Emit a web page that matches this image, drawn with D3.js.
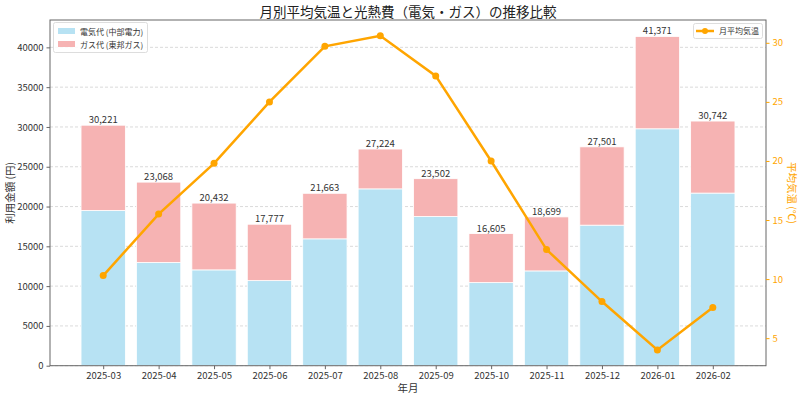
<!DOCTYPE html>
<html><head><meta charset="utf-8">
<script src="https://cdn.jsdelivr.net/npm/d3@7"></script>
<style>body{margin:0;background:#fff;} text{font-family:"Noto Sans CJK JP","DejaVu Sans",sans-serif;}</style>
</head><body>
<svg id="c" width="800" height="397"></svg>
<script>
const months = ["2025-03","2025-04","2025-05","2025-06","2025-07","2025-08","2025-09","2025-10","2025-11","2025-12","2026-01","2026-02"];
const totals = [30221,23068,20432,17777,21663,27224,23502,16605,18699,27501,41371,30742];
const electric = [19500,12960,12040,10690,15940,22220,18740,10440,11910,17660,29770,21690];
const temps = [10.3,15.5,19.8,25.0,29.7,30.6,27.2,20.0,12.5,8.1,4.0,7.6];
const leftTicks = [0,5000,10000,15000,20000,25000,30000,35000,40000];
const rightTicks = [5,10,15,20,25,30];

const svg = d3.select("#c");
const L=50,R=766,T=20,B=365.7;
const x = d3.scaleLinear().domain([-0.96, months.length-1+0.96]).range([L,R]);
const y = d3.scaleLinear().domain([0, d3.max(totals)*1.05]).range([B,T]);
const tmin=d3.min(temps), tmax=d3.max(temps), pad=(tmax-tmin)*0.05;
const y2 = d3.scaleLinear().domain([tmin-pad, tmax+pad]).range([B,T]);
const bw = (x(1)-x(0))*0.8;
const blue="#B7E2F3", pink="#F6B3B3", orange="#FFA500";

// grid
svg.append("g").selectAll("line").data(leftTicks).join("line")
  .attr("x1",L).attr("x2",R).attr("y1",d=>y(d)).attr("y2",d=>y(d))
  .attr("stroke","#ccc").attr("stroke-dasharray","3,2").attr("stroke-width",0.7);

// bars
const g = svg.append("g");
months.forEach((m,i)=>{
  g.append("rect").attr("x",x(i)-bw/2).attr("width",bw).attr("y",y(electric[i])).attr("height",y(0)-y(electric[i]))
    .attr("fill",blue).attr("stroke","#fff").attr("stroke-width",0.8);
  g.append("rect").attr("x",x(i)-bw/2).attr("width",bw).attr("y",y(totals[i])).attr("height",y(electric[i])-y(totals[i]))
    .attr("fill",pink).attr("stroke","#fff").attr("stroke-width",0.8);
  g.append("text").attr("x",x(i)).attr("y",y(totals[i])-2).attr("text-anchor","middle")
    .attr("font-size",9.5).attr("fill","#333").text(d3.format(",")(totals[i]));
});

// line
const line = d3.line().x((d,i)=>x(i)).y(d=>y2(d));
svg.append("path").datum(temps).attr("d",line).attr("fill","none").attr("stroke",orange).attr("stroke-width",2.5);
svg.append("g").selectAll("circle").data(temps).join("circle")
  .attr("cx",(d,i)=>x(i)).attr("cy",d=>y2(d)).attr("r",3.5).attr("fill",orange);

// frame
svg.append("rect").attr("x",L).attr("y",T).attr("width",R-L).attr("height",B-T).attr("fill","none").attr("stroke","#666").attr("stroke-width",1);

// axes
const xa = svg.append("g").attr("transform",`translate(0,${B})`)
  .call(d3.axisBottom(x).tickValues(d3.range(months.length)).tickFormat(i=>months[i]).tickSize(3.5).tickPadding(3));
const ya = svg.append("g").attr("transform",`translate(${L},0)`)
  .call(d3.axisLeft(y).tickValues(leftTicks).tickFormat(d3.format("d")).tickSize(3.5).tickPadding(3));
const y2a = svg.append("g").attr("transform",`translate(${R},0)`)
  .call(d3.axisRight(y2).tickValues(rightTicks).tickFormat(d3.format("d")).tickSize(3.5).tickPadding(3));
[xa,ya,y2a].forEach(a=>{a.select(".domain").remove(); a.selectAll("text").attr("font-size",9.5).attr("fill","#333");a.selectAll("line").attr("stroke","#666");});
y2a.selectAll("text").attr("fill",orange);
y2a.selectAll("line").attr("stroke",orange);

// labels
svg.append("text").attr("x",(L+R)/2).attr("y",B+26).attr("text-anchor","middle").attr("font-size",10.5).attr("fill","#333").text("年月");
svg.append("text").attr("transform",`translate(14,${(T+B)/2}) rotate(-90)`).attr("text-anchor","middle").attr("font-size",10.5).attr("fill","#333").text("利用金額 (円)");
svg.append("text").attr("transform",`translate(788,${(T+B)/2}) rotate(90)`).attr("text-anchor","middle").attr("font-size",10.5).attr("fill",orange).text("平均気温 (℃)");
svg.append("text").attr("x",(L+R)/2).attr("y",17).attr("text-anchor","middle").attr("font-size",13.5).attr("fill","#222").text("月別平均気温と光熱費（電気・ガス）の推移比較");

// left legend
const lg = svg.append("g");
lg.append("rect").attr("x",53.5).attr("y",22.5).attr("width",94).attr("height",30).attr("rx",2).attr("fill","#fff").attr("fill-opacity",0.85).attr("stroke","#ddd");
[["電気代 (中部電力)",blue],["ガス代 (東邦ガス)",pink]].forEach((d,i)=>{
  lg.append("rect").attr("x",58).attr("y",28+i*13).attr("width",17).attr("height",6).attr("fill",d[1]);
  lg.append("text").attr("x",80).attr("y",34.5+i*13).attr("font-size",8).attr("fill","#333").text(d[0]);
});
// right legend
const rg = svg.append("g");
rg.append("rect").attr("x",693.5).attr("y",23.5).attr("width",69).attr("height",15).attr("rx",2).attr("fill","#fff").attr("stroke","#ddd");
rg.append("line").attr("x1",696).attr("x2",714).attr("y1",31).attr("y2",31).attr("stroke",orange).attr("stroke-width",2.5);
rg.append("circle").attr("cx",705).attr("cy",31).attr("r",3).attr("fill",orange);
rg.append("text").attr("x",719).attr("y",34).attr("font-size",8).attr("fill","#333").text("月平均気温");
</script>
</body></html>
